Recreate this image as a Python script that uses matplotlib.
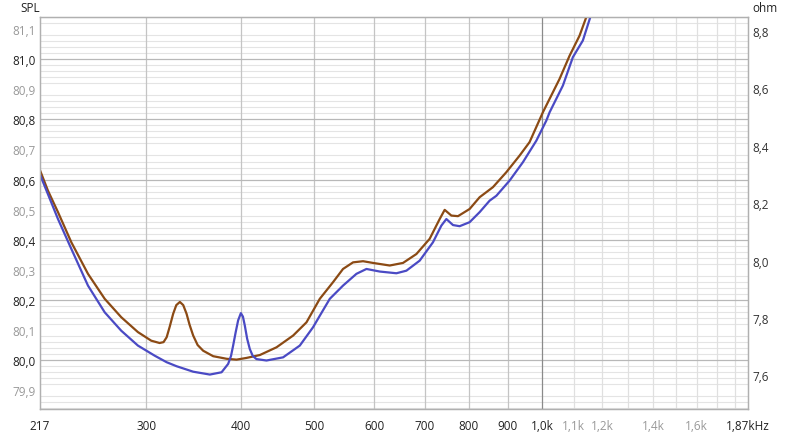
import matplotlib
matplotlib.use("Agg")
import matplotlib.pyplot as plt
import numpy as np
from matplotlib.ticker import FixedLocator, NullFormatter, MultipleLocator

plt.rcParams['font.family'] = ['Open Sans', 'DejaVu Sans']

# ---- data ----
brown_f = [217, 222.3, 229.2, 238.7, 251.1, 264.2, 277.8, 292.3, 304.4, 312.2, 316, 319, 322,
           325.4, 328.5, 332.1, 335.5, 338.9, 342, 345.8, 350.5, 356.5, 367.5, 382.8, 394.6,
           406.7, 423.5, 445.6, 468.7, 488.1, 508.3, 529.2, 545.5, 562.4, 579.8, 597.6, 628.8,
           654.7, 681.9, 710, 732, 743.2, 758.5, 773.9, 801.8, 826.6, 860.7, 896.4, 933.4,
           962.2, 1002, 1054, 1086.7, 1120.2, 1143.2, 1165]
brown_ohm = [8.315, 8.244, 8.169, 8.064, 7.954, 7.867, 7.803, 7.751, 7.721, 7.713, 7.716, 7.733,
             7.770, 7.815, 7.845, 7.856, 7.845, 7.815, 7.777, 7.739, 7.706, 7.686, 7.667, 7.658,
             7.655, 7.661, 7.671, 7.698, 7.739, 7.785, 7.867, 7.925, 7.971, 7.994, 7.998, 7.992,
             7.983, 7.992, 8.023, 8.076, 8.145, 8.177, 8.157, 8.155, 8.180, 8.221, 8.256, 8.308,
             8.366, 8.413, 8.517, 8.633, 8.714, 8.784, 8.848, 8.93]

blue_f = [217, 229.2, 238.7, 251.1, 264.2, 277.8, 292.3, 307.5, 319, 328.8, 345.8, 363.8, 377,
          384.6, 388, 390.5, 393.5, 396.5, 399.8, 402.3, 404.6, 407.5, 410.8, 414.5, 419.2,
          432.2, 454.6, 478.3, 498, 508.3, 524, 545.5, 568.2, 585.8, 610, 641.7, 661.5, 688.8,
          717.2, 735.7, 747, 762.2, 777.8, 801.8, 826.6, 852.1, 869.7, 905.5, 942.9, 982.2,
          1012.5, 1022.7, 1064.8, 1097.7, 1131.5, 1157.3, 1175]
blue_ohm = [8.300, 8.145, 8.041, 7.913, 7.820, 7.756, 7.704, 7.669, 7.646, 7.632, 7.613, 7.603,
            7.611, 7.640, 7.668, 7.704, 7.750, 7.792, 7.817, 7.805, 7.774, 7.728, 7.692, 7.668,
            7.657, 7.652, 7.663, 7.704, 7.768, 7.808, 7.867, 7.913, 7.954, 7.971, 7.962, 7.956,
            7.965, 8.000, 8.064, 8.122, 8.145, 8.124, 8.120, 8.134, 8.169, 8.209, 8.226, 8.279,
            8.343, 8.418, 8.488, 8.517, 8.610, 8.709, 8.767, 8.848, 8.92]

x_ticks = [217, 300, 400, 500, 600, 700, 800, 900, 1000, 1100, 1200, 1400, 1600, 1870]
x_labels = ['217', '300', '400', '500', '600', '700', '800', '900', '1,0k',
            '1,1k', '1,2k', '1,4k', '1,6k', '1,87kHz']
x_label_gray = ['1,1k', '1,2k', '1,4k', '1,6k']
x_grid_mid = [300, 400, 500, 600, 700, 800, 900]
x_grid_dark = [1000]
x_grid_light = [1100, 1200, 1300, 1400, 1500, 1600, 1700, 1800]

spl_ticks = [79.9, 80.0, 80.1, 80.2, 80.3, 80.4, 80.5, 80.6, 80.7, 80.8, 80.9, 81.0, 81.1]
spl_major = [80.0, 80.2, 80.4, 80.6, 80.8, 81.0]
ohm_ticks = [7.6, 7.8, 8.0, 8.2, 8.4, 8.6, 8.8]

# ---- figure ----
fig = plt.figure(figsize=(8, 4.35), dpi=100)
ax = fig.add_axes([0.05, 1 - 410 / 435, (748 - 40) / 800, (410 - 18) / 435])
ax.set_xscale('log')
ax.set_xlim(217, 1870)
ax.set_ylim(79.838, 81.14)

# horizontal grid
ax.yaxis.set_minor_locator(MultipleLocator(0.02))
ax.yaxis.set_minor_formatter(NullFormatter())
ax.grid(which='minor', axis='y', color='#e4e4e4', linewidth=0.8)
# vertical grid
for v in x_grid_light:
    ax.axvline(v, color='#e0e0e0', linewidth=0.9, zorder=1.6)
for v in x_grid_mid:
    ax.axvline(v, color='#c4c4c4', linewidth=0.9, zorder=1.7)
for v in spl_major:
    ax.axhline(v, color='#b8b8b8', linewidth=0.9, zorder=1.8)
for v in x_grid_dark:
    ax.axvline(v, color='#8a8a8a', linewidth=0.9, zorder=1.9)

ax.set_yticks(spl_ticks)
ax.set_yticklabels([f"{t:.1f}".replace('.', ',') for t in spl_ticks])
for lbl, t in zip(ax.get_yticklabels(), spl_ticks):
    lbl.set_color('#222222' if any(abs(t - m) < 1e-6 for m in spl_major) else '#999999')

ax.xaxis.set_major_locator(FixedLocator(x_ticks))
ax.xaxis.set_minor_locator(FixedLocator([]))
ax.set_xticklabels(x_labels)
for lbl in ax.get_xticklabels():
    lbl.set_color('#999999' if lbl.get_text() in x_label_gray else '#222222')

ax.tick_params(axis='both', which='both', length=0, labelsize=8.5)
ax.tick_params(axis='x', pad=7)
ax.tick_params(axis='y', pad=3)
for s in ax.spines.values():
    s.set_color('#b0b0b0')
    s.set_linewidth(0.9)

# right axis (impedance) with curves
ax2 = ax.twinx()
ax2.set_ylim(7.483, 8.849)
ax2.set_yticks(ohm_ticks)
ax2.set_yticklabels([f"{t:.1f}".replace('.', ',') for t in ohm_ticks])
ax2.tick_params(axis='y', length=0, labelsize=8.5, pad=3, labelcolor='#333333')
for s in ax2.spines.values():
    s.set_color('#b0b0b0')
    s.set_linewidth(0.9)

ax2.plot(brown_f, brown_ohm, color='#8b4a14', linewidth=1.6, solid_joinstyle='round')
ax2.plot(blue_f, blue_ohm, color='#4a4ac4', linewidth=1.6, solid_joinstyle='round')
ax2.set_xlim(217, 1870)

fig.text(20 / 800, 1 - 8 / 435, 'SPL', fontsize=8.5, color='#222222', va='center', ha='left')
fig.text(752 / 800, 1 - 8 / 435, 'ohm', fontsize=8.5, color='#222222', va='center', ha='left')

fig.savefig('out.png', dpi=100)
